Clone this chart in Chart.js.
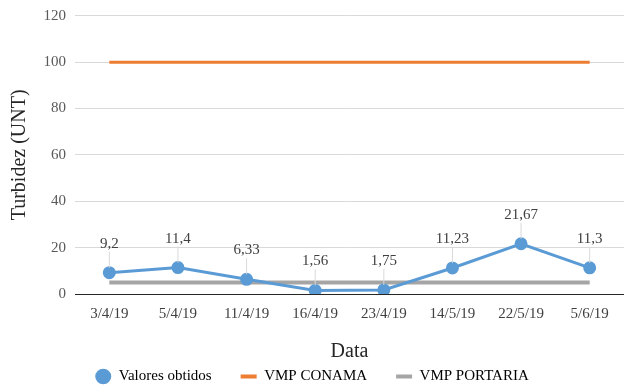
<!DOCTYPE html>
<html>
<head>
<meta charset="utf-8">
<script src="https://cdn.jsdelivr.net/npm/chart.js@4/dist/chart.umd.min.js"></script>
<style>
  html, body { margin: 0; padding: 0; background: #fff; }
  #wrap { width: 624px; height: 385px; }
</style>
</head>
<body>
<div id="wrap"><canvas id="chart" width="624" height="385"></canvas></div>
<script>
// chart values
var categories = ["3/4/19", "5/4/19", "11/4/19", "16/4/19", "23/4/19", "14/5/19", "22/5/19", "5/6/19"];
var valoresObtidos = [9.2, 11.4, 6.33, 1.56, 1.75, 11.23, 21.67, 11.3];
var vmpConama = [100, 100, 100, 100, 100, 100, 100, 100];
var vmpPortaria = [5, 5, 5, 5, 5, 5, 5, 5];
var yTicks = [0, 20, 40, 60, 80, 100, 120];

var serif = "'Liberation Serif'";
var blue = "#5B9BD5", orange = "#ED7D31", grey = "#A5A5A5";
Chart.defaults.font.family = serif;

// value labels with a thin leader line above each point
var pointLabels = {
  id: "pointLabels",
  afterDatasetsDraw: function(chart) {
    var ctx = chart.ctx;
    var meta = chart.getDatasetMeta(0);
    ctx.save();
    ctx.font = "15px " + serif;
    ctx.fillStyle = "#404040";
    ctx.textAlign = "center";
    ctx.textBaseline = "middle";
    meta.data.forEach(function(pt, i) {
      var ly = pt.y - 29;
      ctx.strokeStyle = "#d9d9d9";
      ctx.lineWidth = 1;
      ctx.beginPath();
      ctx.moveTo(pt.x, ly + 8);
      ctx.lineTo(pt.x, pt.y - 5);
      ctx.stroke();
      ctx.fillText(String(valoresObtidos[i]).replace(".", ","), pt.x, ly);
    });
    ctx.restore();
  }
};

// legend uses wide item spacing, but should not take that much height
var legendHeight = {
  id: "legendHeight",
  afterInit: function(chart) {
    var lg = chart.legend;
    var fit = Object.getPrototypeOf(lg).fit;
    lg.fit = function() {
      fit.call(this);
      this.height = 45;
    };
  }
};

function draw() {
  new Chart(document.getElementById("chart"), {
    type: "line",
    data: {
      labels: categories,
      datasets: [
        {
          label: "Valores obtidos",
          data: valoresObtidos,
          borderColor: blue,
          backgroundColor: blue,
          borderWidth: 3,
          pointRadius: 5,
          pointStyle: "circle",
          order: 0
        },
        {
          label: "VMP CONAMA",
          data: vmpConama,
          borderColor: orange,
          backgroundColor: orange,
          borderWidth: 3,
          pointRadius: 0,
          order: 2
        },
        {
          label: "VMP PORTARIA",
          data: vmpPortaria,
          borderColor: grey,
          backgroundColor: grey,
          borderWidth: 4,
          pointRadius: 0,
          order: 1
        }
      ]
    },
    options: {
      responsive: false,
      animation: false,
      layout: { autoPadding: false, padding: { top: 0, right: 0, left: 0, bottom: 0 } },
      plugins: {
        tooltip: { enabled: false },
        legend: {
          position: "bottom",
          labels: {
            color: "#404040",
            font: { family: serif, size: 15 },
            usePointStyle: true,
            boxHeight: 11,
            pointStyleWidth: 16,
            padding: 29,
            generateLabels: function(chart) {
              return chart.data.datasets.map(function(ds, i) {
                return {
                  text: ds.label,
                  fillStyle: ds.borderColor,
                  strokeStyle: ds.borderColor,
                  lineWidth: i === 0 ? 0 : 4,
                  pointStyle: i === 0 ? "circle" : "line",
                  datasetIndex: i
                };
              });
            }
          }
        }
      },
      scales: {
        x: {
          offset: true,
          afterFit: function(scale) { scale.height = 46; },
          grid: { display: false, drawTicks: false },
          border: { color: "#262626", width: 1 },
          ticks: { color: "#404040", font: { family: serif, size: 15 }, padding: 11 },
          title: { display: true, text: "Data", color: "#262626", font: { family: serif, size: 20 }, padding: { top: 0, bottom: -24 } }
        },
        y: {
          min: 0,
          max: 120,
          afterBuildTicks: function(scale) {
            scale.ticks = yTicks.map(function(v) { return { value: v }; });
          },
          afterFit: function(scale) { scale.width = 75; },
          grid: { color: "#d9d9d9", drawTicks: false },
          border: { display: false },
          ticks: { color: "#595959", font: { family: serif, size: 15, lineHeight: 0.9 }, padding: 9 },
          title: { display: true, text: "Turbidez (UNT)", color: "#262626", font: { family: serif, size: 20 }, padding: { top: 8, bottom: 6 } }
        }
      }
    },
    plugins: [pointLabels, legendHeight]
  });
}

if (document.fonts && document.fonts.load) {
  Promise.all([
    document.fonts.load("15px 'Liberation Serif'"),
    document.fonts.load("20px 'Liberation Serif'")
  ]).then(draw, draw);
} else {
  draw();
}
</script>
</body>
</html>
